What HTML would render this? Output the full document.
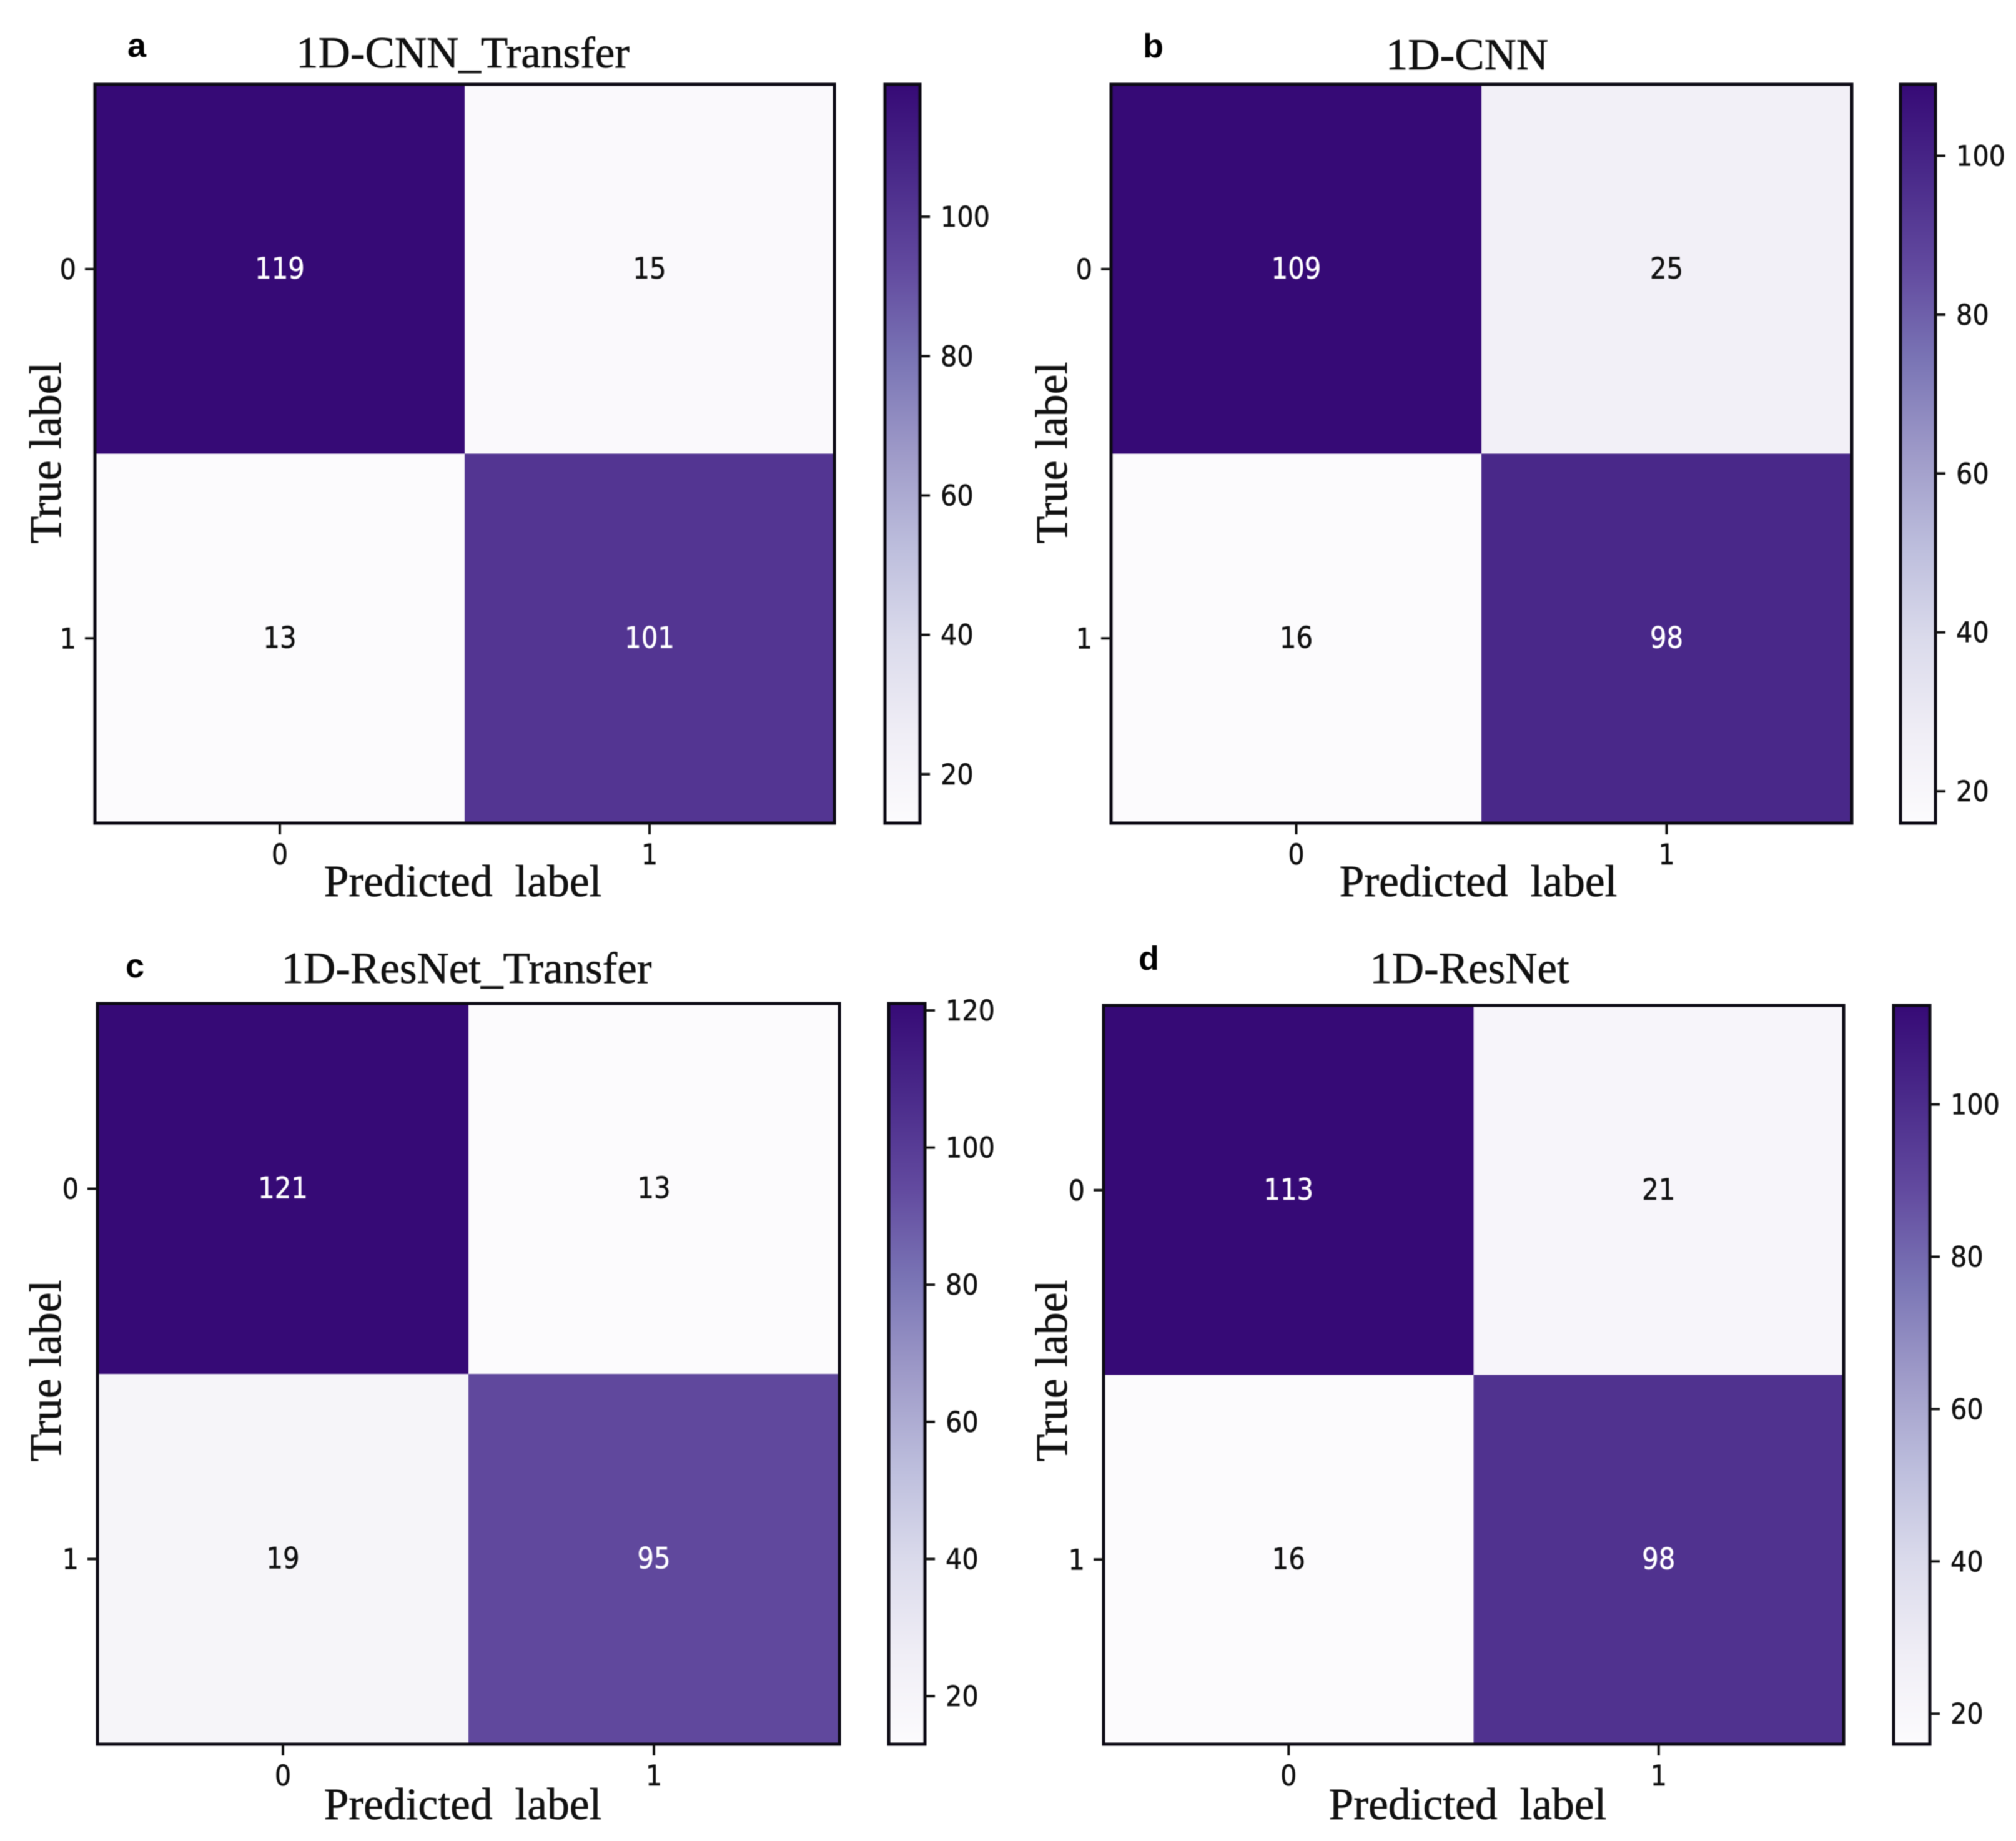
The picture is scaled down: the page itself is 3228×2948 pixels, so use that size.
<!DOCTYPE html>
<html lang="en">
<head>
<meta charset="utf-8">
<title>Confusion matrices</title>
<style>
html,body{margin:0;padding:0;background:#fff;width:3228px;height:2948px;overflow:hidden}
svg{display:block;filter:blur(0.9px)}
.serif{font-family:"Liberation Serif",serif;fill:#111;stroke:#111;stroke-width:0.7px}
.sans{font-family:"DejaVu Sans",sans-serif;fill:#111;stroke:#111;stroke-width:0.6px}
.letter{font-family:"Liberation Sans",sans-serif;font-weight:bold;fill:#000}
</style>
</head>
<body>
<svg id="figure" xmlns="http://www.w3.org/2000/svg" width="3228" height="2948" viewBox="0 0 3228 2948">
<defs>
<linearGradient id="purples-gradient" x1="0" y1="1" x2="0" y2="0"></linearGradient>
</defs>
<rect x="0" y="0" width="3228" height="2948" fill="#ffffff"/>
</svg>
<script>
// ---- chart data ----
const categories = ['0', '1'];
const panelLetters = ['a', 'b', 'c', 'd'];
const panelTitles = ['1D-CNN_Transfer', '1D-CNN', '1D-ResNet_Transfer', '1D-ResNet'];
const countsA = [[119, 15], [13, 101]];
const countsB = [[109, 25], [16, 98]];
const countsC = [[121, 13], [19, 95]];
const countsD = [[113, 21], [16, 98]];
const colorbarTicksA = [20, 40, 60, 80, 100];
const colorbarTicksB = [20, 40, 60, 80, 100];
const colorbarTicksC = [20, 40, 60, 80, 100, 120];
const colorbarTicksD = [20, 40, 60, 80, 100];
const panelCounts = [countsA, countsB, countsC, countsD];
const panelTicks = [colorbarTicksA, colorbarTicksB, colorbarTicksC, colorbarTicksD];
const xAxisTitle = 'Predicted label';
const yAxisTitle = 'True label';
const purplesStops = ['#fcfbfd', '#efedf5', '#dadaeb', '#bcbddc', '#9e9ac8', '#7a75b5', '#624a9f', '#4a2a8a', '#360a76'];

// ---- layout ----
const layouts = [
  {left: 152, right: 1336, top: 135, bottom: 1318, barLeft: 1417, barRight: 1473, titleX: 741, titleY: 108, letterX: 204, letterY: 91, xTitleX: 741, xTitleY: 1435, yTitleX: 97, yTitleY: 725},
  {left: 1779, right: 2965, top: 135, bottom: 1318, barLeft: 3043, barRight: 3099, titleX: 2349, titleY: 111, letterX: 1830, letterY: 92, xTitleX: 2367, xTitleY: 1435, yTitleX: 1708, yTitleY: 725},
  {left: 156, right: 1344, top: 1607, bottom: 2793, barLeft: 1423, barRight: 1481, titleX: 747, titleY: 1574, letterX: 201, letterY: 1565, xTitleX: 741, xTitleY: 2913, yTitleX: 97, yTitleY: 2195},
  {left: 1767, right: 2952, top: 1610, bottom: 2793, barLeft: 3032, barRight: 3090, titleX: 2353, titleY: 1574, letterX: 1823, letterY: 1553, xTitleX: 2350, xTitleY: 2913, yTitleX: 1708, yTitleY: 2195}
];

const NS = 'http://www.w3.org/2000/svg';
const figure = document.getElementById('figure');

function make(tag, attrs, parent) {
  const el = document.createElementNS(NS, tag);
  for (const key in attrs) el.setAttribute(key, attrs[key]);
  parent.appendChild(el);
  return el;
}

function hexToRgb(hex) {
  return [1, 3, 5].map(function (i) { return parseInt(hex.slice(i, i + 2), 16); });
}

function purples(t) {
  const clamped = Math.max(0, Math.min(1, t));
  const pos = clamped * (purplesStops.length - 1);
  const i = Math.min(Math.floor(pos), purplesStops.length - 2);
  const f = pos - i;
  const a = hexToRgb(purplesStops[i]);
  const b = hexToRgb(purplesStops[i + 1]);
  const c = a.map(function (v, k) { return Math.round(v + (b[k] - v) * f); });
  return 'rgb(' + c.join(',') + ')';
}

// Tall, slightly condensed digits to match the stretched reference.
function digitText(x, y, anchor, size, squeeze, parent) {
  return make('text', {
    x: 0, y: 0,
    transform: 'translate(' + x + ' ' + y + ') scale(' + squeeze + ' 1)',
    'font-size': size,
    'text-anchor': anchor,
    class: 'sans'
  }, parent);
}

const gradient = document.getElementById('purples-gradient');
purplesStops.forEach(function (color, i) {
  make('stop', {offset: i / (purplesStops.length - 1), 'stop-color': color}, gradient);
});

panelCounts.forEach(function (counts, p) {
  const box = layouts[p];
  const flat = counts[0].concat(counts[1]);
  const vmin = Math.min.apply(null, flat);
  const vmax = Math.max.apply(null, flat);
  const norm = function (v) { return (v - vmin) / (vmax - vmin); };
  const cellW = (box.right - box.left) / categories.length;
  const cellH = (box.bottom - box.top) / categories.length;
  const xScale = function (i) { return box.left + cellW * (i + 0.5); };
  const yScale = function (i) { return box.top + cellH * (i + 0.5); };
  const barScale = function (v) { return box.bottom - norm(v) * (box.bottom - box.top); };

  const group = make('g', {}, figure);
  
  

  const letter = make('text', {x: box.letterX, y: box.letterY, 'font-size': 54, class: 'letter'}, group);
  letter.textContent = panelLetters[p];
  
  

  const title = make('text', {x: box.titleX, y: box.titleY, 'font-size': 71, 'text-anchor': 'middle', class: 'serif'}, group);
  title.textContent = panelTitles[p];
  
  

  counts.forEach(function (row, r) {
    row.forEach(function (value, c) {
      const cell = make('rect', {
        x: box.left + c * cellW,
        y: box.top + r * cellH,
        width: cellW + 0.5,
        height: cellH + 0.5,
        fill: purples(norm(value))
      }, group);
      
      

      const label = digitText(xScale(c), yScale(r) + 15, 'middle', 47, 0.89, group);
      label.textContent = value;
      const labelColor = norm(value) > 0.5 ? '#ffffff' : '#111111';
      label.style.fill = labelColor;
      label.style.stroke = labelColor;
      
      
    });
  });

  const frame = make('rect', {
    x: box.left, y: box.top,
    width: box.right - box.left, height: box.bottom - box.top,
    fill: 'none', stroke: '#0c0a14', 'stroke-width': 5
  }, group);
  
  

  categories.forEach(function (category, i) {
    const xTick = make('line', {x1: xScale(i), x2: xScale(i), y1: box.bottom, y2: box.bottom + 18, stroke: '#111', 'stroke-width': 4}, group);
    
    

    const xLabel = digitText(xScale(i), box.bottom + 66, 'middle', 45, 0.92, group);
    xLabel.textContent = category;
    
    

    const yTick = make('line', {x1: box.left - 16, x2: box.left, y1: yScale(i), y2: yScale(i), stroke: '#111', 'stroke-width': 4}, group);
    
    

    const yLabel = digitText(box.left - 30, yScale(i) + 16, 'end', 45, 0.92, group);
    yLabel.textContent = category;
    
    
  });

  const xTitle = make('text', {x: box.xTitleX, y: box.xTitleY, 'font-size': 71.5, 'text-anchor': 'middle', 'word-spacing': 18, class: 'serif'}, group);
  xTitle.textContent = xAxisTitle;
  
  

  const yTitle = make('text', {
    x: box.yTitleX, y: box.yTitleY, 'font-size': 72, 'text-anchor': 'middle', class: 'serif',
    transform: 'rotate(-90 ' + box.yTitleX + ' ' + box.yTitleY + ')'
  }, group);
  yTitle.textContent = yAxisTitle;
  
  

  const bar = make('rect', {
    x: box.barLeft, y: box.top,
    width: box.barRight - box.barLeft, height: box.bottom - box.top,
    fill: 'url(#purples-gradient)', stroke: '#0c0a14', 'stroke-width': 5
  }, group);
  
  

  panelTicks[p].forEach(function (tick) {
    const mark = make('line', {x1: box.barRight, x2: box.barRight + 16, y1: barScale(tick), y2: barScale(tick), stroke: '#111', 'stroke-width': 4}, group);
    
    

    const tickLabel = digitText(box.barRight + 33, barScale(tick) + 16, 'start', 45, 0.92, group);
    tickLabel.textContent = tick;
    
    
  });
});
</script>
</body>
</html>
